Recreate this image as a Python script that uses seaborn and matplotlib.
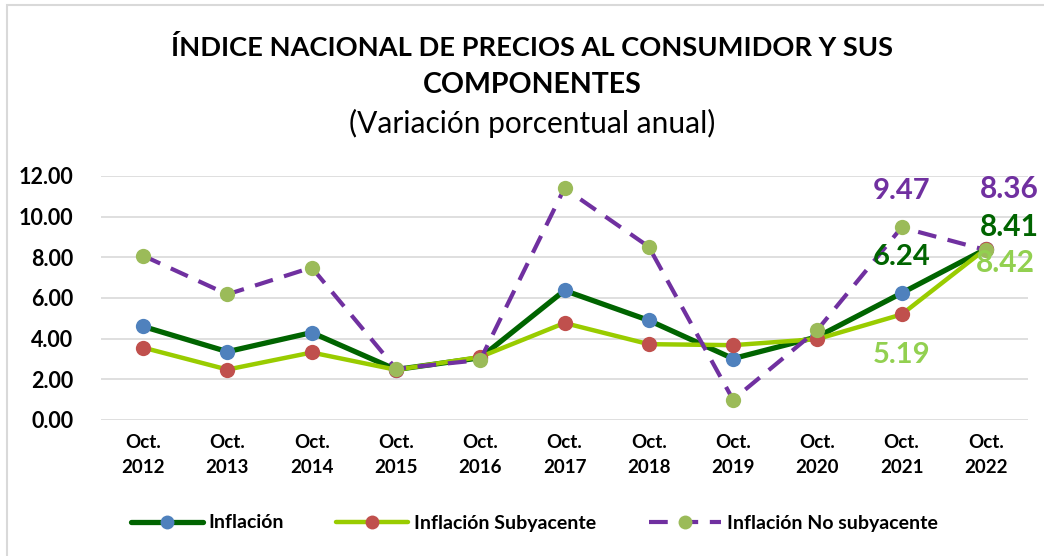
import numpy as np
import pandas as pd
import matplotlib
matplotlib.use("Agg")
import matplotlib.pyplot as plt
from matplotlib.lines import Line2D
from matplotlib.patches import Rectangle
import seaborn as sns

# ------------------------------------------------------------
# data (annual % change, October of each year)
# ------------------------------------------------------------
years = ["Oct.\n2012", "Oct.\n2013", "Oct.\n2014", "Oct.\n2015", "Oct.\n2016", "Oct.\n2017",
         "Oct.\n2018", "Oct.\n2019", "Oct.\n2020", "Oct.\n2021", "Oct.\n2022"]
inflacion = [4.60, 3.36, 4.30, 2.48, 3.06, 6.37, 4.90, 3.02, 4.09, 6.24, 8.41]
subyacente = [3.56, 2.48, 3.32, 2.47, 3.10, 4.77, 3.73, 3.68, 3.98, 5.19, 8.42]
no_subyacente = [8.08, 6.18, 7.50, 2.52, 2.95, 11.40, 8.52, 1.00, 4.43, 9.47, 8.36]
y_ticks = [0, 2, 4, 6, 8, 10, 12]

df = pd.DataFrame({"pos": np.arange(len(years)), "Inflación": inflacion,
                   "Inflación Subyacente": subyacente,
                   "Inflación No subyacente": no_subyacente})

sns.set_theme(style="white")
plt.rcParams["font.family"] = ["Lato", "DejaVu Sans"]
plt.rcParams["text.color"] = "black"
plt.rcParams["xtick.color"] = "black"
plt.rcParams["ytick.color"] = "black"

fig = plt.figure(figsize=(10.44, 5.56), dpi=100)
ax = fig.add_axes([101 / 1044, 1 - 420 / 556, 927 / 1044, 244 / 556])

# series styles: line colour, marker colour
styles = {
    "Inflación": dict(color="#006400", markerfacecolor="#4F81BD", lw=3.8, ls="-"),
    "Inflación Subyacente": dict(color="#99CC00", markerfacecolor="#C0504D", lw=3.2, ls="-"),
    "Inflación No subyacente": dict(color="#7030A0", markerfacecolor="#9BBB59", lw=3.0, ls=(0, (4.5, 2.8))),
}
handles = []
for name, st in styles.items():
    sns.lineplot(data=df, x="pos", y=name, ax=ax, color=st["color"], lw=st["lw"],
                 linestyle=st["ls"], marker="o", markersize=11,
                 markerfacecolor=st["markerfacecolor"], markeredgewidth=0, sort=False)
    handles.append(Line2D([0], [0], color=st["color"], lw=st["lw"], linestyle=st["ls"],
                          marker="o", markersize=10, markerfacecolor=st["markerfacecolor"],
                          markeredgewidth=0, label=name))

ax.set_xlim(-0.5, len(years) - 0.5)
ax.set_ylim(0, 12)
ax.set_yticks(y_ticks)
ax.set_yticklabels([f"{v:.2f}" for v in y_ticks], fontsize=15.5, fontweight="bold")
ax.set_xticks(df["pos"])
ax.set_xticklabels(years, fontsize=13.5, fontweight="bold", linespacing=1.55)
ax.tick_params(axis="y", pad=20, length=0)
ax.tick_params(axis="x", pad=10, length=0)
ax.set_xlabel("")
ax.set_ylabel("")
ax.grid(axis="y", color="#D9D9D9", lw=1.2)
ax.set_axisbelow(True)
for s in ax.spines.values():
    s.set_visible(False)

# data labels on the last two years
i21, i22 = 9, 10
lab = [
    (i21, no_subyacente[i21], "#7030A0", 0, 26, "center", 21),
    (i21, inflacion[i21], "#006400", 0, 26, "center", 21),
    (i21, subyacente[i21], "#92D050", 0, -29.5, "center", 21),
    (i22, no_subyacente[i22], "#7030A0", -4, 44, "left", 21.5),
    (i22, inflacion[i22], "#006400", -4, 16, "left", 21.5),
    (i22, subyacente[i22], "#92D050", -7, -10, "left", 21.5),
]
for x, v, c, dx, dy, ha, fs in lab:
    ax.annotate(f"{v:.2f}", xy=(x, v), xytext=(dx, dy), textcoords="offset points",
                ha=ha, va="center", color=c, fontsize=fs, fontweight="bold",
                annotation_clip=False)

# titles
fig.text(532 / 1044, 1 - 47 / 556, "ÍNDICE NACIONAL DE PRECIOS AL CONSUMIDOR Y SUS",
         ha="center", va="center", fontsize=19.6, fontweight="bold")
fig.text(532 / 1044, 1 - 85 / 556, "COMPONENTES", ha="center", va="center",
         fontsize=20.5, fontweight="bold")
fig.text(532 / 1044, 1 - 123 / 556, "(Variación porcentual anual)", ha="center",
         va="center", fontsize=21.5)

fig.legend(handles=handles, loc="center", bbox_to_anchor=(534 / 1044, 1 - 523 / 556),
           ncol=3, frameon=False, handlelength=3.7, columnspacing=2.7,
           prop={"weight": "bold", "size": 14}, handletextpad=0.3)

# chart border
fig.patches.append(Rectangle((7 / 1044, -0.1), 1.2, 1 - 5 / 556 + 0.1,
                             transform=fig.transFigure, fill=False,
                             edgecolor="#D9D9D9", lw=1.5))

fig.savefig("out.png", dpi=100)
